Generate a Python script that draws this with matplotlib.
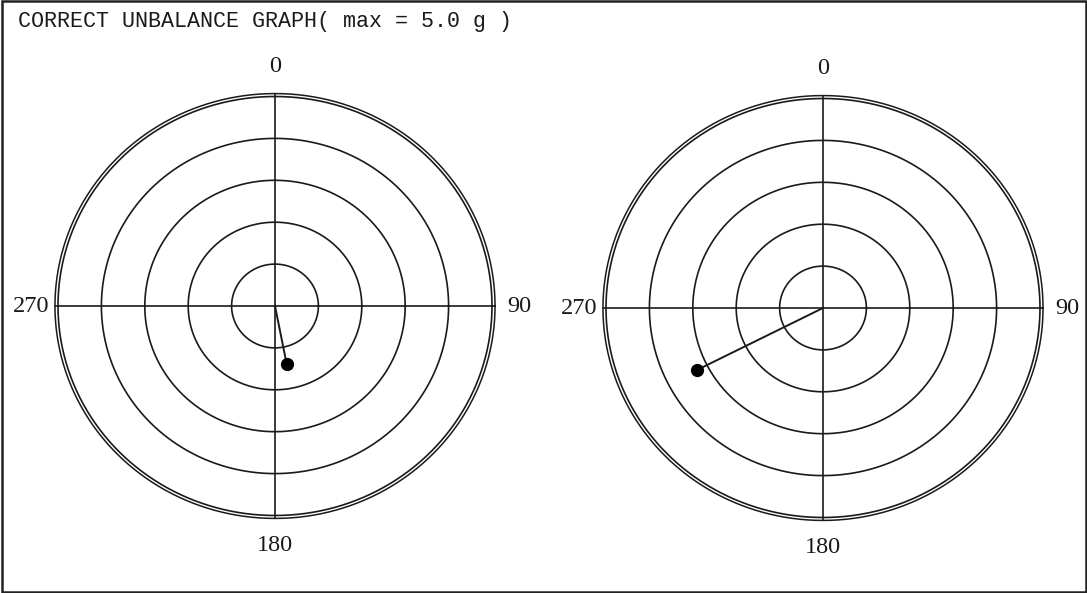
import numpy as np
import matplotlib
matplotlib.use("Agg")
import matplotlib.pyplot as plt
from matplotlib.patches import Rectangle

# ---- data ----
title = "CORRECT UNBALANCE GRAPH( max = 5.0 g )"
max_g = 5.0
rings = [1.0, 2.0, 3.0, 4.0, 5.0]
outer_ring = 5.07
angle_labels = ["0", "90", "180", "270"]
label_angles = [0, 90, 180, 270]
magnitudes = [1.41, 3.25]      # g
angles_deg = [169.0, 243.0]    # clockwise from top

# ---- layout ----
W, H = 1087, 593
fig = plt.figure(figsize=(W / 100, H / 100), dpi=100)
fig.patch.set_facecolor("white")

centers = [(275, 306), (823, 308)]
sx, sy = 43.4, 41.9   # px per g (scan slightly squashed vertically)
half = 260
ink = "#1a1a1a"

tt = np.linspace(0, 2 * np.pi, 721)

for (cx, cy), mag, ang in zip(centers, magnitudes, angles_deg):
    ax = fig.add_axes([(cx - half) / W, (H - cy - half) / H, 2 * half / W, 2 * half / H])
    ax.set_xlim(-half / sx, half / sx)
    ax.set_ylim(-half / sy, half / sy)
    ax.axis("off")
    for r in rings:
        ax.plot(r * np.cos(tt), r * np.sin(tt), color=ink, lw=1.2)
    ax.plot(outer_ring * np.cos(tt), outer_ring * np.sin(tt), color=ink, lw=1.1)
    ax.plot([-outer_ring, outer_ring], [0, 0], color=ink, lw=1.2)
    ax.plot([0, 0], [-outer_ring, outer_ring], color=ink, lw=1.2)
    for lab, a in zip(angle_labels, label_angles):
        rr = 5.72 if a in (0, 180) else 5.63
        th = np.deg2rad(a)
        ax.text(rr * np.sin(th), rr * np.cos(th), lab, ha="center", va="center",
                fontsize=17.5, family="Liberation Serif", color=ink)
    th = np.deg2rad(ang)
    px, py = mag * np.sin(th), mag * np.cos(th)
    ax.plot([0, px], [0, py], color=ink, lw=1.4)
    ax.plot([px], [py], "o", color="black", ms=8.5)

fig.text(18 / W, 1 - 27 / H, title, ha="left", va="baseline",
         fontsize=15.6, family="Liberation Mono", color=ink)

fig.patches.append(Rectangle((2 / W, 1 / H), 1084 / W, 591 / H, transform=fig.transFigure,
                             fill=False, edgecolor="#222222", lw=1.8))

fig.savefig("out.png", dpi=100, facecolor="white")
